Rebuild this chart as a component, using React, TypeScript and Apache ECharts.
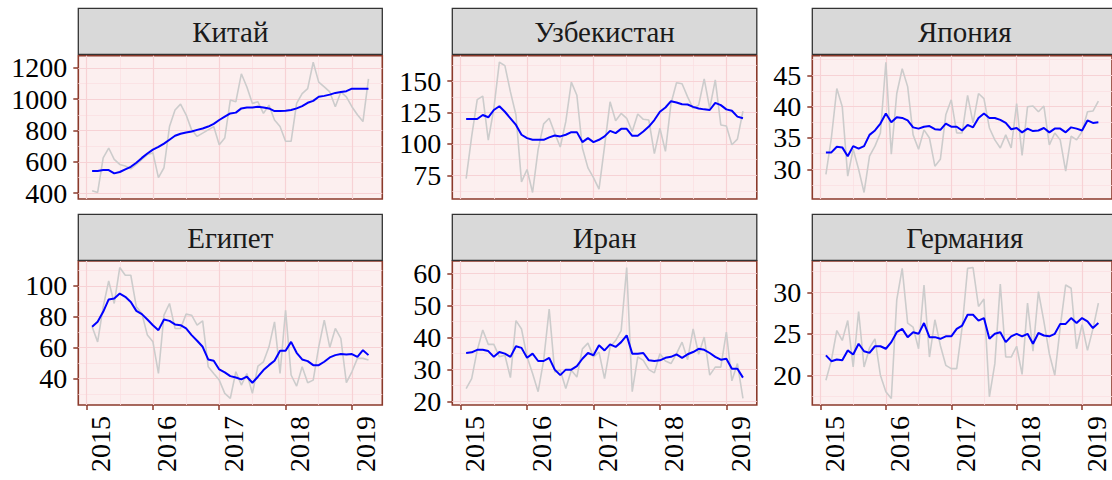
import React, { useEffect, useRef } from "react";
import * as echarts from "echarts";

// Monthly observations, Jan 2015 – Mar 2019 (51 months)
const startYear = 2015;
const monthCount = 51;
const months: string[] = [];
for (let i = 0; i < monthCount; i++) {
  const y = startYear + Math.floor(i / 12);
  const m = (i % 12) + 1;
  months.push(`${y}-${String(m).padStart(2, "0")}`);
}

const countries = ["Китай", "Узбекистан", "Япония", "Египет", "Иран", "Германия"];

const chinaRaw = [415, 404, 625, 688, 615, 583, 573, 555, 583, 615, 646, 657, 499, 562, 825, 931, 968, 900, 804, 762, 783, 804, 825, 709, 752, 994, 983, 1162, 1078, 973, 983, 909, 962, 867, 825, 731, 731, 973, 1036, 1067, 1236, 1109, 1078, 1046, 952, 1046, 1015, 952, 900, 857, 1130];
const chinaAvg = [541, 541, 547, 547, 526, 535, 552, 568, 594, 625, 653, 678, 695, 716, 741, 766, 779, 787, 794, 804, 813, 825, 842, 867, 888, 909, 914, 941, 947, 947, 952, 947, 941, 924, 924, 926, 931, 941, 956, 977, 989, 1015, 1021, 1029, 1040, 1046, 1051, 1067, 1067, 1067, 1067];

const uzbRaw = [72.4, 106, 135.3, 138, 103, 128, 165, 162.3, 141.4, 123, 69.8, 79.7, 61.4, 95.5, 116, 120.4, 108.6, 97.6, 117.7, 149.2, 138.7, 96.8, 81, 73.2, 64, 98, 133.5, 118.5, 124.3, 120.4, 109.9, 123.8, 119.6, 119, 92.3, 112.5, 94.1, 132.2, 148.7, 147.9, 137.4, 128.2, 130.9, 151.8, 128.2, 151, 115.1, 114.3, 99.4, 103.8, 126.1];
const uzbAvg = [119.8, 119.8, 119.8, 123, 121.2, 127, 130, 125.6, 120.4, 115.1, 107.3, 104.6, 103.3, 103.3, 103.3, 105.2, 106.7, 106, 107.3, 109.4, 109.4, 101.5, 104.6, 101.5, 103.3, 106, 110.4, 108.6, 112, 112, 106.5, 106.5, 109.9, 113.8, 119, 125.6, 129, 134, 133, 131.6, 131.4, 129.5, 128.2, 127.5, 127, 132.7, 130.9, 127.5, 126.4, 121.7, 120.4];

const japanRaw = [29.2, 35, 42.9, 40, 28.9, 33.2, 30, 26.3, 32.1, 33.7, 35.8, 47.1, 32.4, 42.1, 46.05, 43.2, 35.5, 33.2, 36.3, 35, 30.5, 31.6, 38.7, 41.1, 35.8, 35.8, 41.8, 37.4, 42.1, 41.3, 36.6, 34.7, 33.4, 35.5, 33.4, 40.5, 32.2, 40, 40.1, 39.2, 40.1, 33.9, 35.8, 34.7, 29.7, 35.3, 34.7, 36, 39.2, 39.3, 40.9];
const japanAvg = [32.7, 32.7, 33.6, 33.5, 32.1, 33.7, 33.3, 33.7, 35.5, 36.2, 37.3, 38.9, 37.5, 38.3, 38.2, 37.8, 36.7, 36.5, 36.8, 36.9, 36.4, 36.3, 37.3, 36.8, 36.8, 36.2, 37.1, 36.7, 38.2, 38.9, 38.2, 38.2, 37.9, 37.4, 36.4, 36.6, 35.9, 36.5, 36.1, 36.2, 36.6, 35.9, 36.5, 36.5, 35.9, 36.7, 36.5, 36.2, 37.8, 37.4, 37.5];

const egyptRaw = [73.5, 63.7, 86.4, 103.2, 88.6, 111.9, 106.9, 106.9, 86.4, 82.1, 68.1, 63.7, 43.2, 81, 88.6, 72.4, 72.4, 81.7, 81, 74.5, 77.3, 47.6, 43.2, 38.9, 30.3, 27, 44.3, 35.7, 43.2, 30.3, 48, 50.8, 60.5, 76.7, 43.2, 84.2, 42.2, 35, 47.6, 37.2, 38.9, 60.5, 77.8, 60.1, 72.4, 65.9, 37.2, 44.3, 53, 53, 51.9];
const egyptAvg = [73.5, 76.7, 83.2, 91.2, 91.8, 95, 92.9, 89.6, 83.8, 81.7, 78.2, 74.5, 71.3, 78.2, 77.3, 75, 74.5, 72.4, 68.1, 64.4, 60.5, 52.3, 51.4, 45.8, 43.9, 41.5, 40.6, 39.4, 41.1, 37.2, 41.1, 45.4, 48.6, 51.4, 57.9, 57.9, 63.7, 56.6, 52.3, 51.2, 48.6, 48.6, 50.8, 53.6, 55.1, 55.8, 55.5, 55.8, 54, 58.3, 55.1];

const iranRaw = [24, 27.1, 35.9, 42.3, 37.8, 37.8, 33.9, 34.4, 27.4, 45.2, 42.6, 33.9, 28.7, 23, 32.8, 48.8, 29.2, 29.7, 24, 29.7, 27.6, 36.4, 38.2, 33.9, 35.4, 27.1, 37, 39, 42.1, 61.8, 23, 33.9, 32.8, 29.9, 28.9, 34.9, 32.6, 31.8, 34.9, 38.5, 33, 42.6, 34.7, 40.1, 28.2, 30.7, 30.7, 41.6, 26.4, 31.8, 20.9];
const iranAvg = [35.1, 35.3, 36.1, 36.1, 35.7, 33.9, 35.4, 34.9, 33.9, 37.2, 36.7, 33.6, 34.9, 32.6, 32.6, 33.6, 29.9, 28.2, 29.9, 29.9, 31, 33.3, 35.1, 34.4, 37.5, 35.9, 37.8, 37, 38.5, 40.6, 34.9, 34.9, 35.1, 32.8, 32.6, 32.8, 33.6, 33.9, 34.7, 33.6, 34.7, 35.4, 36.4, 36.1, 35.1, 33.9, 33, 33.3, 30.2, 30.2, 27.4];

const germanyRaw = [19.4, 21.8, 25.4, 24.2, 26.6, 21, 27.7, 21, 23.3, 24.4, 20, 18, 17.2, 29.1, 32.9, 26.3, 25.8, 23.2, 30.9, 22.2, 26.7, 23.6, 21.2, 20.8, 20.8, 25.8, 32.9, 33, 28.3, 29.2, 17.4, 21.4, 31, 22.2, 22.2, 23.5, 20.1, 28.7, 22.9, 30.1, 26.5, 22.6, 20, 25.8, 30.9, 30.5, 23.2, 26.1, 23, 25.6, 28.7];
const germanyAvg = [22.4, 21.7, 21.9, 21.8, 23, 22.5, 23.8, 22.9, 22.7, 23.5, 23.5, 23.2, 24, 25.2, 25.6, 24.6, 25.2, 25, 26.3, 24.6, 24.6, 24.4, 24.7, 24.7, 25.6, 26, 27.3, 27.3, 26.6, 26.9, 24.4, 25, 25.2, 24, 24.7, 25, 24.7, 25, 23.8, 25.1, 24.8, 24.7, 25, 26.2, 26.2, 26.9, 26.3, 26.9, 26.5, 25.7, 26.3];

const rawSeries = [chinaRaw, uzbRaw, japanRaw, egyptRaw, iranRaw, germanyRaw];
const avgSeries = [chinaAvg, uzbAvg, japanAvg, egyptAvg, iranAvg, germanyAvg];

// Tick labels
const xTicks = [2015, 2016, 2017, 2018, 2019];
const xMinor = [2015.5, 2016.5, 2017.5, 2018.5];
const yTicks = [
  [400, 600, 800, 1000, 1200],
  [75, 100, 125, 150],
  [30, 35, 40, 45],
  [40, 60, 80, 100],
  [20, 30, 40, 50, 60],
  [20, 25, 30],
];
const yMinor = [
  [500, 700, 900, 1100],
  [62.5, 87.5, 112.5, 137.5, 162.5],
  [27.5, 32.5, 37.5, 42.5, 47.5],
  [30, 50, 70, 90, 110],
  [25, 35, 45, 55],
  [17.5, 22.5, 27.5, 32.5],
];

// Layout
const colLeft = [78.3, 452.3, 812.3];
const colWidth = [304, 304.5, 305];
const rowTop = [55.7, 261];
const rowHeight = [143.3, 144];
const stripTop = [8.3, 214.3];
const stripH = 46;

const FONT = "'Liberation Serif', 'Times New Roman', serif";
const TICK_FS = 28;
const STRIP_FS = 29;
const BORDER = "#8B3A2B";
const BG = "#FCEFEF";
const MAJOR = "#F7D2D5";
const MINOR = "#FAE0E2";

function xPos(m: string): number {
  const [y, mo] = m.split("-").map(Number);
  return y + mo / 12;
}

export default function App() {
  const ref = useRef<HTMLDivElement>(null);
  useEffect(() => {
    if (!ref.current) return;
    const chart = echarts.init(ref.current, null, { renderer: "svg" });
    const xs = months.map(xPos);
    const xMin = xs[0] - 0.05 * (xs[xs.length - 1] - xs[0]);
    const xMax = xs[xs.length - 1] + 0.05 * (xs[xs.length - 1] - xs[0]);

    const grids: any[] = [];
    const xAxes: any[] = [];
    const yAxes: any[] = [];
    const series: any[] = [];
    const graphics: any[] = [];

    countries.forEach((name, k) => {
      const r = Math.floor(k / 3);
      const c = k % 3;
      const bottomRow = r === 1;
      const raw = rawSeries[k];
      const lo = Math.min(...raw);
      const hi = Math.max(...raw);
      const yMin = lo - 0.05 * (hi - lo);
      const yMax = hi + 0.05 * (hi - lo);
      grids.push({
        left: colLeft[c],
        top: rowTop[r],
        width: colWidth[c],
        height: rowHeight[r],
        show: true,
        backgroundColor: BG,
        borderColor: BORDER,
        borderWidth: 1.6,
        containLabel: false,
      });
      xAxes.push({
        type: "value",
        gridIndex: k,
        min: xMin,
        max: xMax,
        axisLine: { show: false },
        splitLine: { show: false },
        axisTick: {
          show: bottomRow,
          customValues: xTicks,
          length: 5,
          lineStyle: { color: BORDER, width: 1.5 },
        },
        axisLabel: {
          show: bottomRow,
          customValues: xTicks,
          rotate: 90,
          fontFamily: FONT,
          fontSize: TICK_FS,
          color: "#000",
          margin: 11,
          verticalAlign: "top",
          formatter: (v: number) => String(Math.round(v)),
        },
      });
      yAxes.push({
        type: "value",
        gridIndex: k,
        min: yMin,
        max: yMax,
        axisLine: { show: false },
        splitLine: { show: false },
        axisTick: {
          show: true,
          customValues: yTicks[k],
          length: 5,
          lineStyle: { color: BORDER, width: 1.5 },
        },
        axisLabel: {
          show: true,
          customValues: yTicks[k],
          fontFamily: FONT,
          fontSize: TICK_FS,
          color: "#000",
          margin: 11,
          formatter: (v: number) => String(v),
        },
      });
      const gridLines: any[] = [];
      yMinor[k].forEach((v) => gridLines.push({ yAxis: v, lineStyle: { color: MINOR, width: 0.8, type: "solid" } }));
      xMinor.forEach((v) => gridLines.push({ xAxis: v, lineStyle: { color: MINOR, width: 0.8, type: "solid" } }));
      yTicks[k].forEach((v) => gridLines.push({ yAxis: v, lineStyle: { color: MAJOR, width: 1.2, type: "solid" } }));
      xTicks.forEach((v) => gridLines.push({ xAxis: v, lineStyle: { color: MAJOR, width: 1.2, type: "solid" } }));
      series.push({
        type: "line",
        xAxisIndex: k,
        yAxisIndex: k,
        data: raw.map((v, i) => [xs[i], v]),
        showSymbol: false,
        silent: true,
        z: 1,
        lineStyle: { opacity: 0 },
        markLine: {
          silent: true,
          z: 1,
          symbol: "none",
          label: { show: false },
          emphasis: { disabled: true },
          animation: false,
          data: gridLines,
        },
      });
      series.push({
        type: "line",
        xAxisIndex: k,
        yAxisIndex: k,
        data: raw.map((v, i) => [xs[i], v]),
        showSymbol: false,
        silent: true,
        z: 3,
        lineStyle: { color: "#CCCCCC", width: 1.6 },
      });
      series.push({
        type: "line",
        xAxisIndex: k,
        yAxisIndex: k,
        data: avgSeries[k].map((v, i) => [xs[i], v]),
        showSymbol: false,
        silent: true,
        z: 4,
        lineStyle: { color: "#0000FF", width: 2 },
      });
      graphics.push({
        type: "rect",
        shape: { x: colLeft[c], y: stripTop[r], width: colWidth[c], height: stripH },
        style: { fill: "#D9D9D9", stroke: "#333333", lineWidth: 1.3 },
        z: 10,
      });
      graphics.push({
        type: "text",
        x: colLeft[c] + colWidth[c] / 2,
        y: stripTop[r] + stripH / 2 + 1,
        style: {
          text: name,
          fontFamily: FONT,
          fontSize: STRIP_FS,
          fill: "#1A1A1A",
          align: "center",
          verticalAlign: "middle",
        },
        z: 11,
      });
    });

    chart.setOption({
      animation: false,
      backgroundColor: "#FFFFFF",
      grid: grids,
      xAxis: xAxes,
      yAxis: yAxes,
      series,
      graphic: graphics,
    });
    return () => chart.dispose();
  }, []);
  return (
    <div
      ref={ref}
      style={{ position: "absolute", left: 0, top: 0, width: 1112, height: 480 }}
    />
  );
}
